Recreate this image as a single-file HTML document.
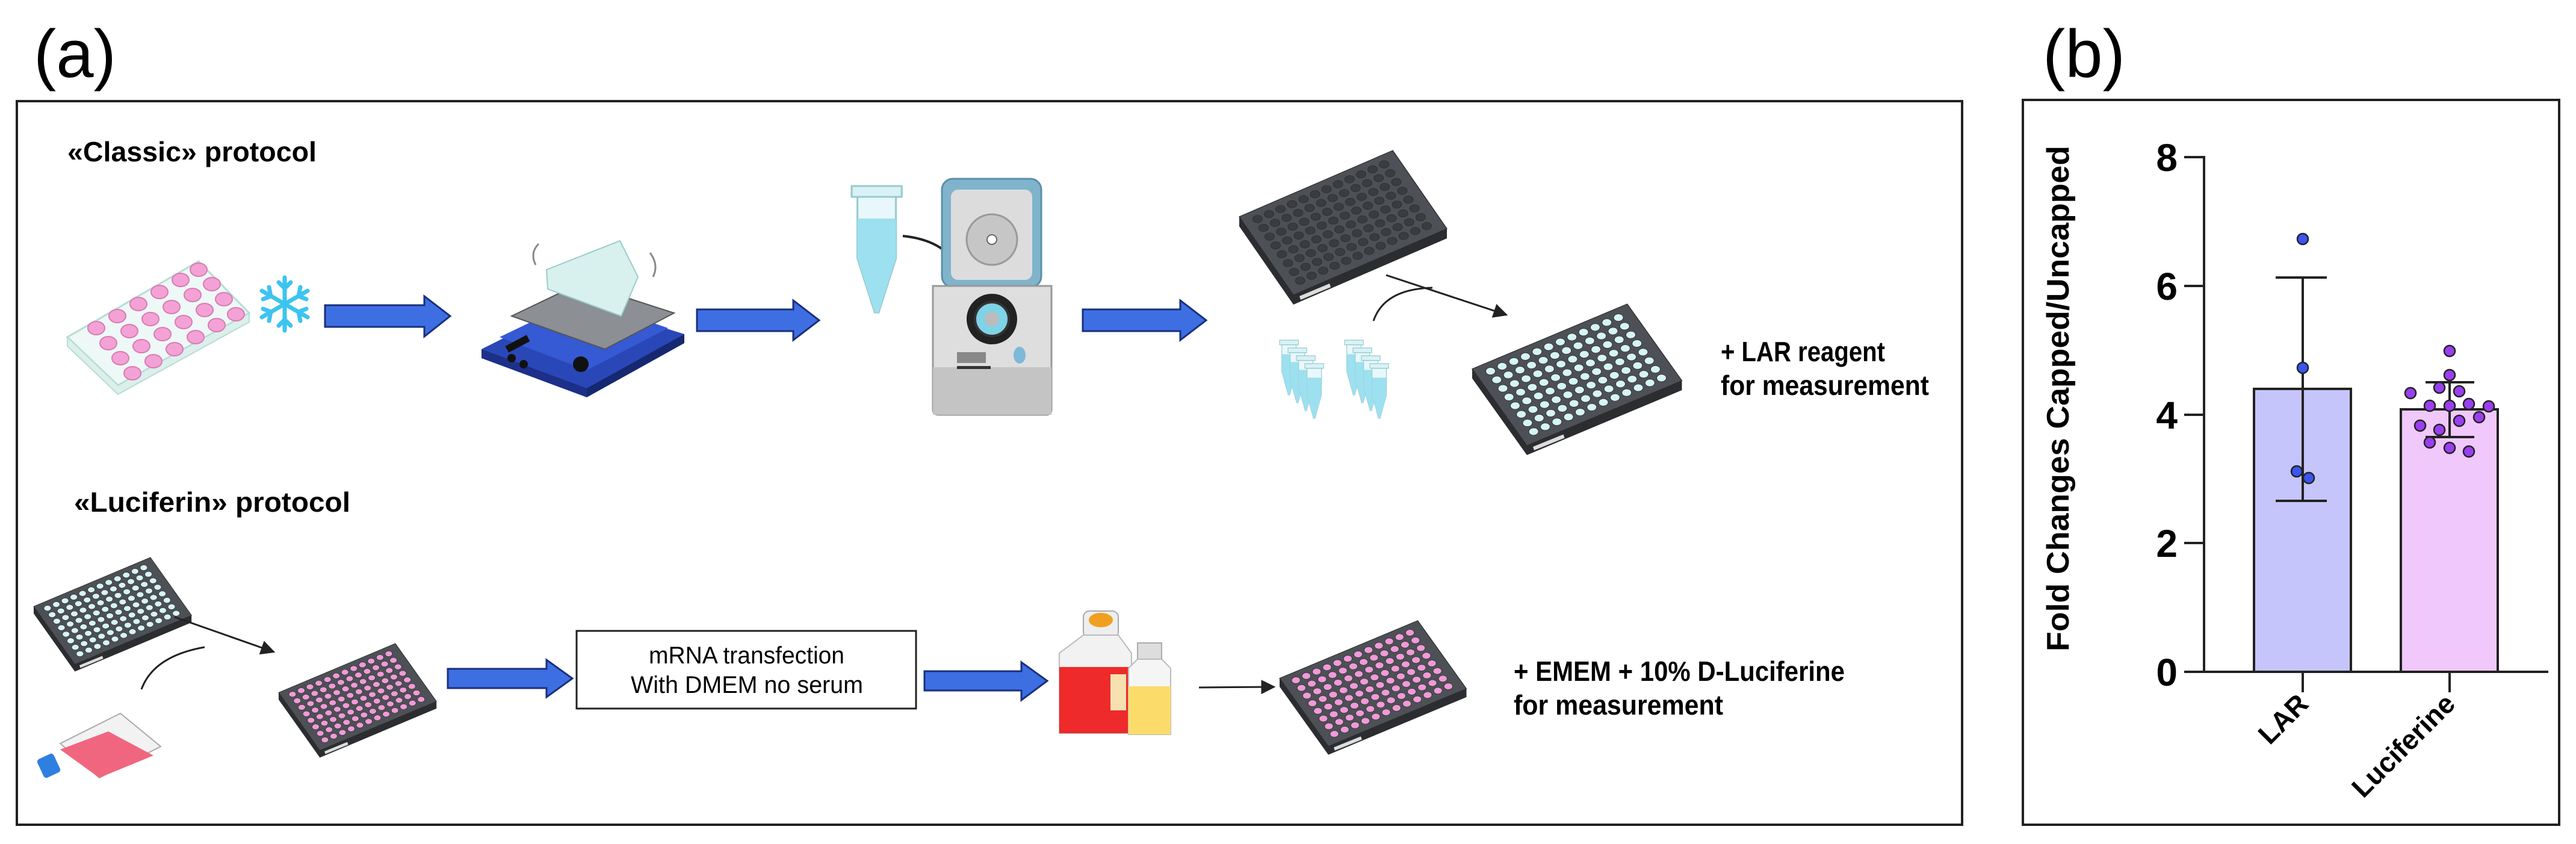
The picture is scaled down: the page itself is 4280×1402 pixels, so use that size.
<!DOCTYPE html>
<html><head><meta charset="utf-8"><style>
html,body{margin:0;padding:0;background:#fff;}
svg{display:block;}
text{font-family:"Liberation Sans",sans-serif;}
</style></head><body>
<svg width="4280" height="1402" viewBox="0 0 4280 1402" xmlns="http://www.w3.org/2000/svg">
<defs>
  <g id="plate">
    <polygon points="0,110 90,240 345,130 345,146 90,256 0,126" fill="#2b2d30"/>
    <g transform="matrix(2.125,-0.917,1.125,1.625,0,110)">
      <rect x="0" y="0" width="120" height="80" fill="#4d5055" stroke="#2b2d30" stroke-width="0.6"/>
      <g fill="currentColor" stroke="#2a2c2f" stroke-width="0.4">
        <circle cx="10" cy="8" r="3.3"/><circle cx="19" cy="8" r="3.3"/><circle cx="28" cy="8" r="3.3"/><circle cx="37" cy="8" r="3.3"/><circle cx="46" cy="8" r="3.3"/><circle cx="55" cy="8" r="3.3"/><circle cx="64" cy="8" r="3.3"/><circle cx="73" cy="8" r="3.3"/><circle cx="82" cy="8" r="3.3"/><circle cx="91" cy="8" r="3.3"/><circle cx="100" cy="8" r="3.3"/><circle cx="109" cy="8" r="3.3"/>
        <circle cx="10" cy="17" r="3.3"/><circle cx="19" cy="17" r="3.3"/><circle cx="28" cy="17" r="3.3"/><circle cx="37" cy="17" r="3.3"/><circle cx="46" cy="17" r="3.3"/><circle cx="55" cy="17" r="3.3"/><circle cx="64" cy="17" r="3.3"/><circle cx="73" cy="17" r="3.3"/><circle cx="82" cy="17" r="3.3"/><circle cx="91" cy="17" r="3.3"/><circle cx="100" cy="17" r="3.3"/><circle cx="109" cy="17" r="3.3"/>
        <circle cx="10" cy="26" r="3.3"/><circle cx="19" cy="26" r="3.3"/><circle cx="28" cy="26" r="3.3"/><circle cx="37" cy="26" r="3.3"/><circle cx="46" cy="26" r="3.3"/><circle cx="55" cy="26" r="3.3"/><circle cx="64" cy="26" r="3.3"/><circle cx="73" cy="26" r="3.3"/><circle cx="82" cy="26" r="3.3"/><circle cx="91" cy="26" r="3.3"/><circle cx="100" cy="26" r="3.3"/><circle cx="109" cy="26" r="3.3"/>
        <circle cx="10" cy="35" r="3.3"/><circle cx="19" cy="35" r="3.3"/><circle cx="28" cy="35" r="3.3"/><circle cx="37" cy="35" r="3.3"/><circle cx="46" cy="35" r="3.3"/><circle cx="55" cy="35" r="3.3"/><circle cx="64" cy="35" r="3.3"/><circle cx="73" cy="35" r="3.3"/><circle cx="82" cy="35" r="3.3"/><circle cx="91" cy="35" r="3.3"/><circle cx="100" cy="35" r="3.3"/><circle cx="109" cy="35" r="3.3"/>
        <circle cx="10" cy="44" r="3.3"/><circle cx="19" cy="44" r="3.3"/><circle cx="28" cy="44" r="3.3"/><circle cx="37" cy="44" r="3.3"/><circle cx="46" cy="44" r="3.3"/><circle cx="55" cy="44" r="3.3"/><circle cx="64" cy="44" r="3.3"/><circle cx="73" cy="44" r="3.3"/><circle cx="82" cy="44" r="3.3"/><circle cx="91" cy="44" r="3.3"/><circle cx="100" cy="44" r="3.3"/><circle cx="109" cy="44" r="3.3"/>
        <circle cx="10" cy="53" r="3.3"/><circle cx="19" cy="53" r="3.3"/><circle cx="28" cy="53" r="3.3"/><circle cx="37" cy="53" r="3.3"/><circle cx="46" cy="53" r="3.3"/><circle cx="55" cy="53" r="3.3"/><circle cx="64" cy="53" r="3.3"/><circle cx="73" cy="53" r="3.3"/><circle cx="82" cy="53" r="3.3"/><circle cx="91" cy="53" r="3.3"/><circle cx="100" cy="53" r="3.3"/><circle cx="109" cy="53" r="3.3"/>
        <circle cx="10" cy="62" r="3.3"/><circle cx="19" cy="62" r="3.3"/><circle cx="28" cy="62" r="3.3"/><circle cx="37" cy="62" r="3.3"/><circle cx="46" cy="62" r="3.3"/><circle cx="55" cy="62" r="3.3"/><circle cx="64" cy="62" r="3.3"/><circle cx="73" cy="62" r="3.3"/><circle cx="82" cy="62" r="3.3"/><circle cx="91" cy="62" r="3.3"/><circle cx="100" cy="62" r="3.3"/><circle cx="109" cy="62" r="3.3"/>
        <circle cx="10" cy="71" r="3.3"/><circle cx="19" cy="71" r="3.3"/><circle cx="28" cy="71" r="3.3"/><circle cx="37" cy="71" r="3.3"/><circle cx="46" cy="71" r="3.3"/><circle cx="55" cy="71" r="3.3"/><circle cx="64" cy="71" r="3.3"/><circle cx="73" cy="71" r="3.3"/><circle cx="82" cy="71" r="3.3"/><circle cx="91" cy="71" r="3.3"/><circle cx="100" cy="71" r="3.3"/><circle cx="109" cy="71" r="3.3"/>
      </g>
    </g>
    <polygon points="100,242 150,221 152,227 102,248" fill="#ddd"/>
  </g>
  <g id="tube">
    <rect x="0" y="0" width="26" height="6" fill="#d9f1f7" stroke="#9cc" stroke-width="1"/>
    <path d="M3,6 L23,6 L23,40 L14,70 L12,70 L3,40 Z" fill="#e8f7fb" stroke="#9cc" stroke-width="1"/>
    <path d="M3,18 L23,18 L23,40 L14,70 L12,70 L3,40 Z" fill="#9de0f0"/>
  </g>
  <marker id="ah" viewBox="0 0 10 10" refX="9" refY="5" markerWidth="8" markerHeight="8" orient="auto"><path d="M0,0 L10,5 L0,10 Z" fill="#222"/></marker>
</defs>

<text x="56" y="128" font-size="112">(a)</text>
<text x="3394" y="128" font-size="112">(b)</text>

<rect x="28" y="168" width="3232" height="1202" fill="none" stroke="#222" stroke-width="4"/>

<text x="112" y="268" font-size="46" font-weight="bold" textLength="414" lengthAdjust="spacingAndGlyphs">«Classic» protocol</text>
<text x="123" y="850" font-size="46" font-weight="bold" textLength="459" lengthAdjust="spacingAndGlyphs">«Luciferin» protocol</text>

<!-- 24 well plate -->
<g>
  <polygon points="112,560 330,434 414,520 196,640" fill="#eef8f6" stroke="#b5ddd5" stroke-width="3"/>
  <polygon points="112,560 196,640 414,520 414,535 196,655 112,575" fill="#dcefeb" stroke="#b5ddd5" stroke-width="2"/>
  <g fill="#f4a2d6" stroke="#d77bb5" stroke-width="2">
    <ellipse cx="160" cy="545" rx="14" ry="11"/><ellipse cx="195" cy="525" rx="14" ry="11"/><ellipse cx="230" cy="505" rx="14" ry="11"/><ellipse cx="265" cy="485" rx="14" ry="11"/><ellipse cx="300" cy="465" rx="14" ry="11"/><ellipse cx="330" cy="448" rx="14" ry="11"/>
    <ellipse cx="180" cy="570" rx="14" ry="11"/><ellipse cx="215" cy="550" rx="14" ry="11"/><ellipse cx="250" cy="530" rx="14" ry="11"/><ellipse cx="285" cy="510" rx="14" ry="11"/><ellipse cx="320" cy="490" rx="14" ry="11"/><ellipse cx="352" cy="472" rx="14" ry="11"/>
    <ellipse cx="200" cy="595" rx="14" ry="11"/><ellipse cx="235" cy="575" rx="14" ry="11"/><ellipse cx="270" cy="555" rx="14" ry="11"/><ellipse cx="305" cy="535" rx="14" ry="11"/><ellipse cx="340" cy="515" rx="14" ry="11"/><ellipse cx="372" cy="497" rx="14" ry="11"/>
    <ellipse cx="220" cy="620" rx="14" ry="11"/><ellipse cx="255" cy="600" rx="14" ry="11"/><ellipse cx="290" cy="580" rx="14" ry="11"/><ellipse cx="325" cy="560" rx="14" ry="11"/><ellipse cx="360" cy="540" rx="14" ry="11"/><ellipse cx="392" cy="522" rx="14" ry="11"/>
  </g>
</g>
<g stroke="#3cc4f0" stroke-width="7" stroke-linecap="round" fill="none" transform="translate(473,505)">
  <line x1="0" y1="-44" x2="0" y2="44"/><line x1="-38" y1="-22" x2="38" y2="22"/><line x1="-38" y1="22" x2="38" y2="-22"/>
  <path d="M-10,-36 L0,-26 L10,-36 M-10,36 L0,26 L10,36 M-36,-8 L-23,-13 L-26,-28 M36,8 L23,13 L26,28 M-36,8 L-23,13 L-26,28 M36,-8 L23,-13 L26,-28"/>
</g>

<g fill="#3d6fe3" stroke="#1a2f7d" stroke-width="3">
  <polygon points="540,507 705,507 705,492 748,525 705,559 705,543 540,543"/>
  <polygon points="1158,514 1318,514 1318,499 1361,532 1318,565 1318,550 1158,550"/>
  <polygon points="1799,514 1961,514 1961,499 2004,532 1961,565 1961,550 1799,550"/>
  <polygon points="744,1111 908,1111 908,1096 951,1127 908,1158 908,1143 744,1143"/>
  <polygon points="1536,1115 1697,1115 1697,1100 1740,1131 1697,1163 1697,1147 1536,1147"/>
</g>

<!-- Shaker -->
<g>
  <polygon points="800,580 960,500 1137,555 975,650" fill="#2a47b8"/>
  <polygon points="800,580 975,645 975,660 800,595" fill="#1c308a"/>
  <polygon points="975,645 1137,555 1137,570 975,660" fill="#162870"/>
  <polygon points="830,560 965,495 1110,545 975,615" fill="#3659d4"/>
  <polygon points="850,525 965,470 1120,520 1005,580" fill="#8c8f94" stroke="#555" stroke-width="2"/>
  <polygon points="908,448 1030,400 1060,460 1032,525 910,480" fill="#d8f1ee" stroke="#9cc" stroke-width="2"/>
  <rect x="840" y="565" width="40" height="12" fill="#111" transform="rotate(-28 860 571)"/>
  <circle cx="965" cy="605" r="13" fill="#111"/>
  <circle cx="850" cy="595" r="7" fill="#111"/><circle cx="870" cy="605" r="7" fill="#111"/>
  <path d="M890,440 Q880,420 895,405 M1080,420 Q1095,440 1085,460" stroke="#888" stroke-width="3" fill="none"/>
</g>

<!-- Tube + Centrifuge -->
<use href="#tube" transform="translate(1415,309) scale(3.2,3)"/>
<path d="M1500,392 Q1580,400 1598,460" stroke="#222" stroke-width="4" fill="none" marker-end="url(#ah)"/>
<g>
  <rect x="1565" y="297" width="165" height="180" rx="18" fill="#7fb4cc" stroke="#5a8fa8" stroke-width="3"/>
  <rect x="1580" y="315" width="135" height="150" rx="12" fill="#dcdcdc"/>
  <circle cx="1648" cy="398" r="42" fill="#c6c6c6" stroke="#999" stroke-width="3"/>
  <circle cx="1648" cy="398" r="8" fill="#fff" stroke="#666" stroke-width="2"/>
  <path d="M1550,475 L1747,475 L1747,680 Q1747,689 1738,689 L1560,689 Q1550,689 1550,680 Z" fill="#dedede" stroke="#999" stroke-width="3"/>
  <rect x="1550" y="610" width="197" height="79" fill="#c4c4c4"/>
  <circle cx="1648" cy="530" r="42" fill="#222"/>
  <circle cx="1648" cy="530" r="28" fill="#7fd3e6" stroke="#333" stroke-width="4"/>
  <circle cx="1648" cy="530" r="12" fill="#bbb"/>
  <rect x="1590" y="585" width="48" height="18" fill="#888"/>
  <rect x="1590" y="608" width="56" height="5" fill="#333"/>
  <ellipse cx="1694" cy="590" rx="10" ry="14" fill="#7fb8d8"/>
</g>

<use href="#plate" transform="translate(2059,250) scale(1.0,1.0)" style="color:#3a3c40"/>
<path d="M2303,457 L2503,523" stroke="#222" stroke-width="3" fill="none" marker-end="url(#ah)"/>
<path d="M2282,533 Q2300,480 2380,478" stroke="#222" stroke-width="3" fill="none"/>
<use href="#tube" transform="translate(2126,565) scale(1.2,1.3)"/>
<use href="#tube" transform="translate(2140,578) scale(1.2,1.3)"/>
<use href="#tube" transform="translate(2154,591) scale(1.2,1.3)"/>
<use href="#tube" transform="translate(2168,604) scale(1.2,1.3)"/>
<use href="#tube" transform="translate(2234,565) scale(1.2,1.3)"/>
<use href="#tube" transform="translate(2248,578) scale(1.2,1.3)"/>
<use href="#tube" transform="translate(2262,591) scale(1.2,1.3)"/>
<use href="#tube" transform="translate(2276,604) scale(1.2,1.3)"/>
<use href="#plate" transform="translate(2446,505) scale(1.01,0.98)" style="color:#d6f4f4"/>

<text font-size="46" font-weight="bold"><tspan x="2859" y="600" textLength="273" lengthAdjust="spacingAndGlyphs">+ LAR reagent</tspan><tspan x="2859" y="656" textLength="346" lengthAdjust="spacingAndGlyphs">for measurement</tspan></text>

<use href="#plate" transform="translate(56,926) scale(0.76,0.74)" style="color:#d6f4f4"/>
<g>
  <polygon points="100,1235 200,1185 267,1240 165,1292" fill="#f2f2f2" stroke="#aaa" stroke-width="2"/>
  <polygon points="100,1245 180,1215 255,1255 165,1292" fill="#f0667f"/>
  <rect x="66" y="1255" width="30" height="34" rx="5" fill="#2f7fe0" transform="rotate(-25 81 1272)"/>
</g>
<path d="M290,1025 L455,1083" stroke="#222" stroke-width="3" fill="none" marker-end="url(#ah)"/>
<path d="M235,1145 Q255,1090 340,1075" stroke="#222" stroke-width="3" fill="none"/>
<use href="#plate" transform="translate(463,1069) scale(0.76,0.74)" style="color:#f09ad8"/>

<rect x="958" y="1048" width="564" height="129" fill="#fff" stroke="#222" stroke-width="3"/>
<text font-size="40"><tspan x="1078" y="1102" textLength="325" lengthAdjust="spacingAndGlyphs">mRNA transfection</tspan><tspan x="1048" y="1151" textLength="386" lengthAdjust="spacingAndGlyphs">With DMEM no serum</tspan></text>

<g>
  <rect x="1800" y="1015" width="58" height="45" rx="10" fill="#eee" stroke="#aaa" stroke-width="2"/>
  <ellipse cx="1829" cy="1030" rx="20" ry="12" fill="#f0a020"/>
  <path d="M1760,1085 L1800,1055 L1858,1055 L1880,1085 L1880,1218 L1760,1218 Z" fill="#f2f2f2" stroke="#bbb" stroke-width="2"/>
  <rect x="1760" y="1108" width="120" height="110" fill="#ee2a2a"/>
  <rect x="1845" y="1120" width="26" height="60" fill="#f6e0b0"/>
  <rect x="1890" y="1068" width="40" height="30" fill="#ddd" stroke="#aaa" stroke-width="2"/>
  <path d="M1875,1110 L1890,1095 L1930,1095 L1945,1110 L1945,1220 L1875,1220 Z" fill="#f5f5f5" stroke="#bbb" stroke-width="2"/>
  <rect x="1875" y="1140" width="70" height="80" fill="#fbdc6a"/>
</g>
<path d="M1992,1142 L2117,1141" stroke="#222" stroke-width="3" fill="none" marker-end="url(#ah)"/>
<use href="#plate" transform="translate(2126,1031) scale(0.9,0.87)" style="color:#f09ad8"/>

<text font-size="46" font-weight="bold"><tspan x="2515" y="1131" textLength="550" lengthAdjust="spacingAndGlyphs">+ EMEM + 10% D-Luciferine</tspan><tspan x="2515" y="1187" textLength="348" lengthAdjust="spacingAndGlyphs">for measurement</tspan></text>

<!-- Panel b -->
<rect x="3361" y="166" width="891" height="1204" fill="none" stroke="#222" stroke-width="4"/>

<text transform="translate(3437,662) rotate(-90)" text-anchor="middle" font-size="52" font-weight="bold" textLength="840" lengthAdjust="spacingAndGlyphs">Fold Changes Capped/Uncapped</text>

<rect x="3745" y="646" width="161" height="470" fill="#c5c5fb" stroke="#222" stroke-width="4"/>
<rect x="3989" y="680" width="161" height="436" fill="#f0c8fb" stroke="#222" stroke-width="4"/>

<g stroke="#222" stroke-width="4" fill="none">
  <line x1="3662" y1="259" x2="3662" y2="1118"/>
  <line x1="3629" y1="1116" x2="4234" y2="1116"/>
  <line x1="3629" y1="261" x2="3662" y2="261"/>
  <line x1="3629" y1="475" x2="3662" y2="475"/>
  <line x1="3629" y1="689" x2="3662" y2="689"/>
  <line x1="3629" y1="902" x2="3662" y2="902"/>
  <line x1="3826" y1="1116" x2="3826" y2="1150"/>
  <line x1="4070" y1="1116" x2="4070" y2="1150"/>
  <line x1="3826" y1="461" x2="3826" y2="832"/>
  <line x1="3781" y1="461" x2="3866" y2="461"/>
  <line x1="3781" y1="832" x2="3866" y2="832"/>
  <line x1="4070" y1="635" x2="4070" y2="726"/>
  <line x1="4030" y1="635" x2="4111" y2="635"/>
  <line x1="4030" y1="726" x2="4111" y2="726"/>
</g>
<g font-size="64" font-weight="bold" text-anchor="end">
  <text x="3618" y="284">8</text><text x="3618" y="498">6</text><text x="3618" y="712">4</text><text x="3618" y="925">2</text><text x="3618" y="1139">0</text>
</g>
<g fill="#3a55f0" stroke="#222" stroke-width="2.5">
  <circle cx="3826" cy="397" r="9"/><circle cx="3826" cy="611" r="9"/><circle cx="3816" cy="783" r="9"/><circle cx="3836" cy="794" r="9"/>
</g>
<g fill="#9a3ff0" stroke="#222" stroke-width="2.5">
  <circle cx="4070" cy="583" r="9"/><circle cx="4070" cy="623" r="9"/><circle cx="4053" cy="644" r="9"/><circle cx="4086" cy="650" r="9"/>
  <circle cx="4005" cy="653" r="9"/><circle cx="4037" cy="674" r="9"/><circle cx="4070" cy="674" r="9"/><circle cx="4102" cy="671" r="9"/>
  <circle cx="4135" cy="675" r="9"/><circle cx="4119" cy="693" r="9"/><circle cx="4086" cy="699" r="9"/><circle cx="4021" cy="707" r="9"/>
  <circle cx="4053" cy="714" r="9"/><circle cx="4037" cy="735" r="9"/><circle cx="4070" cy="744" r="9"/><circle cx="4102" cy="750" r="9"/>
</g>
<text transform="translate(3838,1172) rotate(-45)" text-anchor="end" font-size="46" font-weight="bold">LAR</text>
<text transform="translate(4082,1172) rotate(-45)" text-anchor="end" font-size="46" font-weight="bold">Luciferine</text>
</svg>
</body></html>
